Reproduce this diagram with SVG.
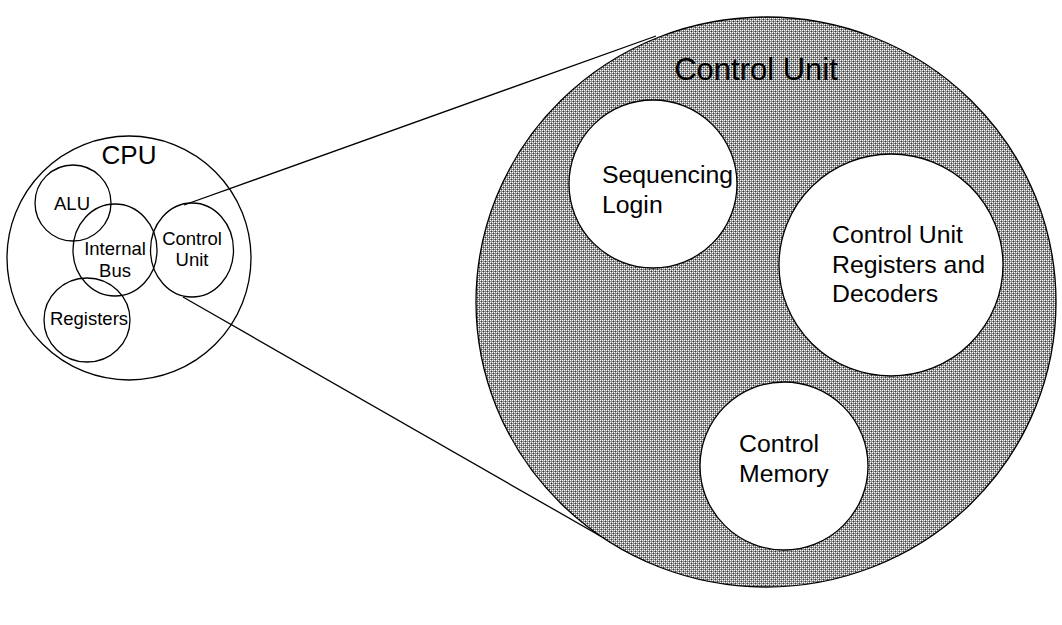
<svg xmlns="http://www.w3.org/2000/svg" width="1062" height="625" viewBox="0 0 1062 625">
<style>
.o{fill:none;stroke:#000;stroke-width:1.3}
.w{fill:#fff;stroke:#000;stroke-width:1.3}
text{font-family:"Liberation Sans",Arial,sans-serif;fill:#000}
.s{font-size:18.5px}
.c{font-size:26px}
.m{font-size:24.8px}
.l{font-size:31px}
</style>
<defs>
<pattern id="pat" width="4" height="4" patternUnits="userSpaceOnUse">
<rect width="4" height="4" fill="#8f8f8f"/>
<rect x="0" y="0" width="1" height="1" fill="#fff"/>
<rect x="2" y="0" width="1" height="1" fill="#fff"/>
<rect x="0" y="2" width="1" height="1" fill="#fff"/>
<rect x="2" y="2" width="1" height="1" fill="#fff"/>
<rect x="1" y="1" width="1" height="1" fill="#333"/>
<rect x="3" y="3" width="1" height="1" fill="#333"/>
</pattern>
</defs>
<g id="cpu">
<circle class="o" cx="129" cy="258" r="122"/>
<text class="c" x="129" y="164" text-anchor="middle">CPU</text>
</g>
<g id="alu">
<circle class="o" cx="73" cy="203" r="38"/>
<text class="s" x="72" y="210" text-anchor="middle">ALU</text>
</g>
<g id="bus">
<ellipse class="o" cx="115" cy="250" rx="42" ry="46"/>
<text class="s" x="115" y="255" text-anchor="middle">Internal</text>
<text class="s" x="115" y="277" text-anchor="middle">Bus</text>
</g>
<g id="cu-small">
<ellipse class="o" cx="192" cy="250" rx="41.5" ry="47"/>
<text class="s" x="192" y="245" text-anchor="middle">Control</text>
<text class="s" x="192" y="266" text-anchor="middle">Unit</text>
</g>
<g id="registers">
<ellipse class="o" cx="87" cy="320" rx="43" ry="42"/>
<text class="s" x="89" y="325" text-anchor="middle">Registers</text>
</g>
<g id="connectors">
<line class="o" x1="184" y1="205" x2="656" y2="36"/>
<line class="o" x1="183" y1="297" x2="630" y2="553"/>
</g>
<g id="control-unit">
<ellipse cx="766" cy="302" rx="290" ry="285" fill="url(#pat)" stroke="#000" stroke-width="1.3"/>
<text class="l" x="756" y="80" text-anchor="middle">Control Unit</text>
</g>
<g id="sequencing">
<circle class="w" cx="653" cy="184" r="84"/>
<text class="m" x="602" y="183">Sequencing</text>
<text class="m" x="602" y="213">Login</text>
</g>
<g id="cu-regs">
<ellipse class="w" cx="891" cy="265" rx="112" ry="111"/>
<text class="m" x="832" y="243">Control Unit</text>
<text class="m" x="832" y="273">Registers and</text>
<text class="m" x="832" y="302">Decoders</text>
</g>
<g id="memory">
<circle class="w" cx="784" cy="466" r="84"/>
<text class="m" x="739" y="452">Control</text>
<text class="m" x="739" y="482">Memory</text>
</g>
</svg>
